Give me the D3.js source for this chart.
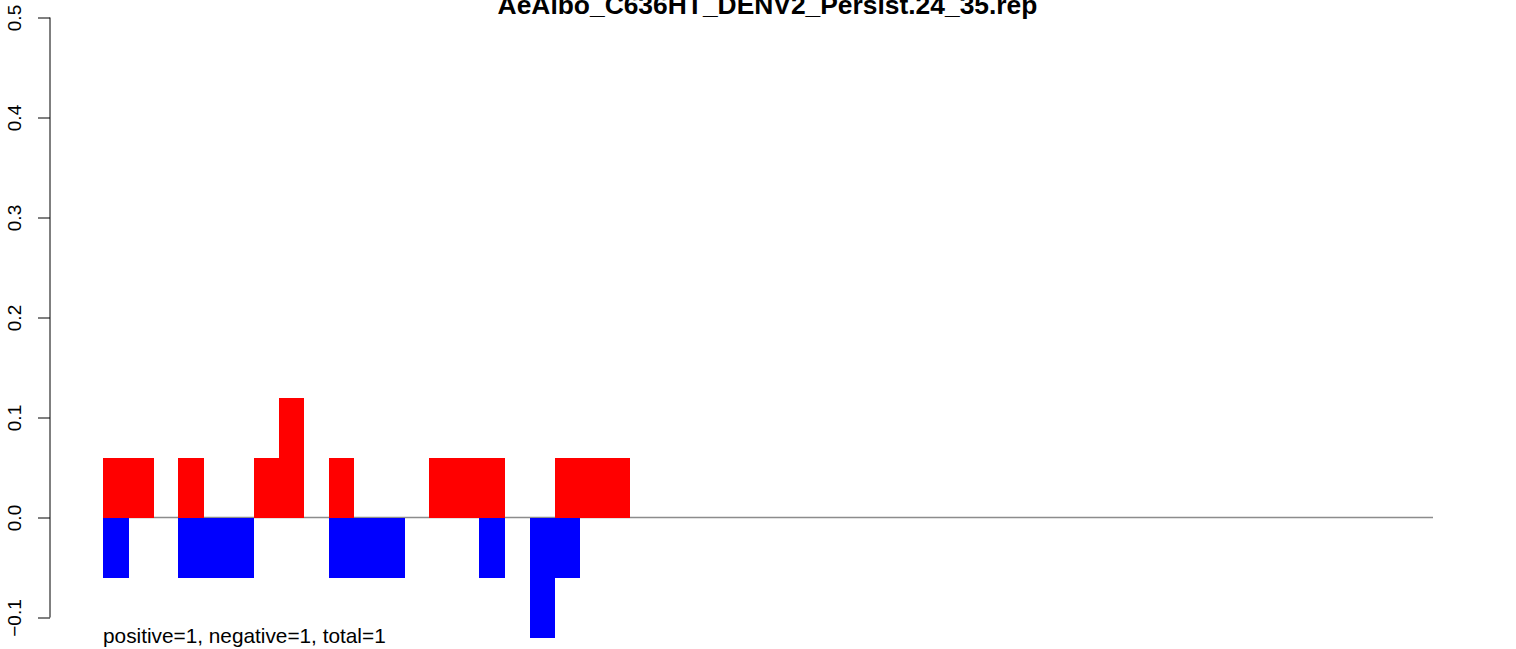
<!DOCTYPE html>
<html>
<head>
<meta charset="utf-8">
<script src="https://cdn.jsdelivr.net/npm/d3@7"></script>
<style>
  body { margin: 0; background: #fff; }
  svg { display: block; font-family: "Liberation Sans", Arial, sans-serif; }
</style>
</head>
<body>
<div id="chart"></div>
<script>
// bin positions (53 in all, only the first 21 carry reads)
var positions = d3.range(1, 54);
var positiveVals = [0.06, 0.06, 0, 0.06, 0, 0, 0.06, 0.12, 0, 0.06, 0, 0, 0, 0.06, 0.06, 0.06, 0, 0, 0.06, 0.06, 0.06];
var negativeVals = [-0.06, 0, 0, -0.06, -0.06, -0.06, 0, 0, 0, -0.06, -0.06, -0.06, 0, 0, 0, -0.06, 0, -0.12, -0.06, 0, 0];
var yTicks = [-0.1, 0, 0.1, 0.2, 0.3, 0.4, 0.5];
var title = "AeAlbo_C636HT_DENV2_Persist.24_35.rep";
var note = "positive=1, negative=1, total=1";

var W = 1516, H = 649;

var svg = d3.select('#chart').append('svg')
    .attr('width', W)
    .attr('height', H);

var x = d3.scaleLinear()
    .domain([0, positions.length])
    .range([103, 1433]);
var bw = x(1) - x(0);

var y = d3.scaleLinear()
    .domain([-0.1, 0.5])
    .range([617.5, 17.5]);

// zero line, under the bars
svg.append('line')
    .attr('x1', x(0))
    .attr('x2', x(positions.length))
    .attr('y1', y(0))
    .attr('y2', y(0))
    .attr('stroke', '#8c8c8c')
    .attr('stroke-width', 1.3);

// bars
svg.selectAll('rect.pos')
    .data(positiveVals)
    .enter()
    .append('rect')
    .attr('class', 'pos')
    .attr('x', function (d, i) { return x(i); })
    .attr('width', bw + 0.5)
    .attr('y', function (d) { return y(d); })
    .attr('height', function (d) { return y(0) - y(d); })
    .attr('fill', 'red')
    .attr('shape-rendering', 'crispEdges');

svg.selectAll('rect.neg')
    .data(negativeVals)
    .enter()
    .append('rect')
    .attr('class', 'neg')
    .attr('x', function (d, i) { return x(i); })
    .attr('width', bw + 0.5)
    .attr('y', y(0) + 0.5)
    .attr('height', function (d) { return d ? y(d) - y(0) - 0.5 : 0; })
    .attr('fill', 'blue')
    .attr('shape-rendering', 'crispEdges');

// y axis
var axis = svg.append('g')
    .attr('transform', 'translate(50,0)')
    .call(d3.axisLeft(y).tickValues(yTicks).tickSize(12).tickFormat(function (d) {
        return d3.format('.1f')(d).replace('-', '\u2212');
    }));
axis.select('.domain').attr('stroke', '#000').attr('d', 'M0,' + y(-0.1) + 'V' + y(0.5));
axis.selectAll('.tick line').attr('stroke', '#000');
axis.selectAll('.tick text')
    .attr('fill', '#000')
    .style('font-size', '19px')
    .style('font-family', '"Liberation Sans", Arial, sans-serif')
    .attr('text-anchor', 'middle')
    .attr('x', null)
    .attr('dy', null)
    .attr('transform', 'translate(-29,0) rotate(-90)');

// title (sits partly above the page edge, as in the original)
svg.append('text')
    .attr('x', 767.5)
    .attr('y', 14)
    .attr('text-anchor', 'middle')
    .style('font-weight', 'bold')
    .style('font-size', '26.4px')
    .text(title);

// summary
svg.append('text')
    .attr('x', 103)
    .attr('y', 643)
    .style('font-size', '20.8px')
    .text(note);
</script>
</body>
</html>
